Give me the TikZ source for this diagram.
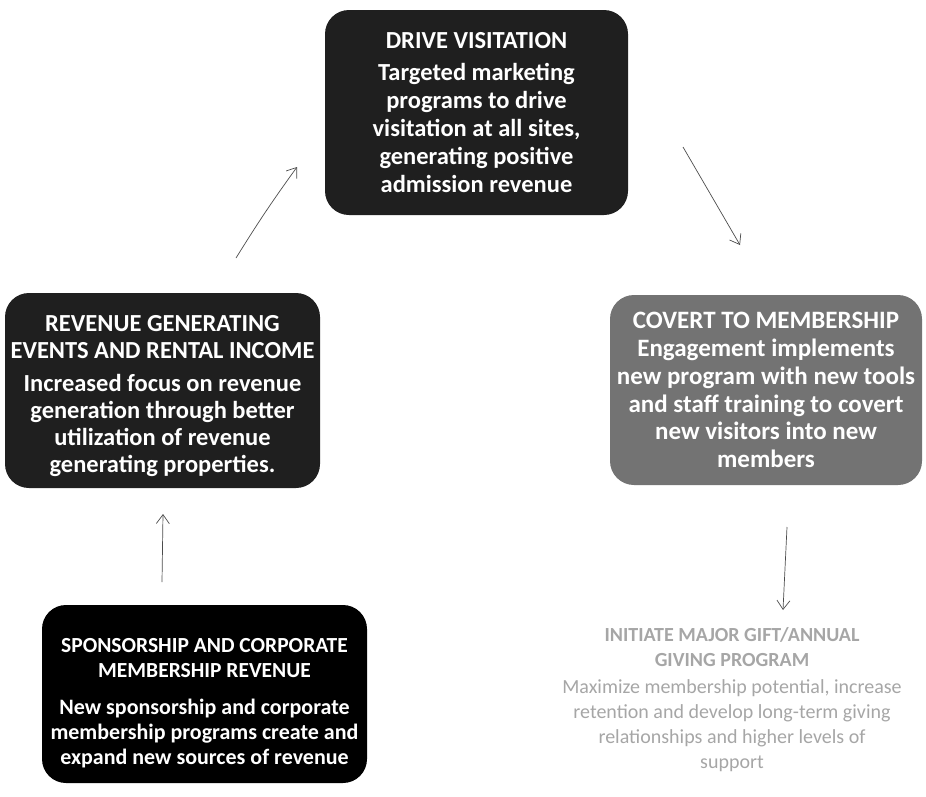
\documentclass[tikz,border=0pt]{standalone}
\usepackage{fontspec}
\setmainfont{Carlito}
\usetikzlibrary{arrows.meta}

\tikzset{
  stage/.style={rounded corners=24pt, align=center, inner sep=0pt, text=white,
    font=\bfseries\fontsize{24.5}{28}\selectfont},
  flow/.style={-{Straight Barb[length=9pt,width=13pt]}, line width=0.7pt, black!70}
}
\newcommand{\headsz}{\fontsize{21.5}{25}\selectfont}
\newcommand{\bodysz}{\fontsize{22}{26}\selectfont}

\begin{document}
\begin{tikzpicture}[x=1pt, y=-1pt]
\useasboundingbox (0,0) rectangle (926,796);
\node[stage, fill=black!88, minimum width=303pt, minimum height=205pt] (visit) at (476.5,112.5)
  {DRIVE VISITATION\\[4pt] Targeted marketing\\ programs to drive\\ visitation at all sites,\\ generating positive\\ admission revenue};
\node[stage, fill=black!88, font=\bfseries\fontsize{24.5}{27}\selectfont, minimum width=315pt, minimum height=195pt] (events) at (162.5,390.5)
  {\rule{0pt}{28pt}REVENUE GENERATING\\ EVENTS AND RENTAL INCOME\\[6pt] Increased focus on revenue\\ generation through better\\ utilization of revenue\\ generating properties.};
\node[stage, fill=black!55, font=\bfseries\fontsize{25}{27.8}\selectfont, minimum width=312pt, minimum height=190pt] (convert) at (766,390)
  {COVERT TO MEMBERSHIP\\ Engagement implements\\ new program with new tools\\ and staff training to covert\\ new visitors into new\\ members};
\node[stage, fill=black, font=\bfseries\headsz, minimum width=325pt, minimum height=178pt] (sponsor) at (204.5,694)
  {\headsz\rule{0pt}{32pt}SPONSORSHIP AND CORPORATE\\ \headsz MEMBERSHIP REVENUE\\[12pt] \bodysz New sponsorship and corporate\\ \bodysz membership programs create and\\ \bodysz expand new sources of revenue};
\node[stage, text=black!35, font=\fontsize{20}{25}\selectfont, minimum width=345pt, minimum height=178pt] (giving) at (732,700)
  {\bfseries INITIATE MAJOR GIFT/ANNUAL\\ \bfseries GIVING PROGRAM\\[2pt] \mdseries Maximize membership potential, increase\\ \mdseries retention and develop long-term giving\\ \mdseries relationships and higher levels of\\ \mdseries support};

% connectors between the stages
\coordinate (a1) at (236,258);
\coordinate (b1) at (297,167);
\coordinate (a2) at (683,147);
\coordinate (b2) at (740,245);
\coordinate (a3) at (787,527);
\coordinate (b3) at (783,610);
\coordinate (a4) at (162,582);
\coordinate (b4) at (163,514);
\draw[flow] (a1) to[bend left=2] (b1);
\draw[flow] (a2) -- (b2);
\draw[flow] (a3) -- (b3);
\draw[flow] (a4) -- (b4);
\end{tikzpicture}
\end{document}
